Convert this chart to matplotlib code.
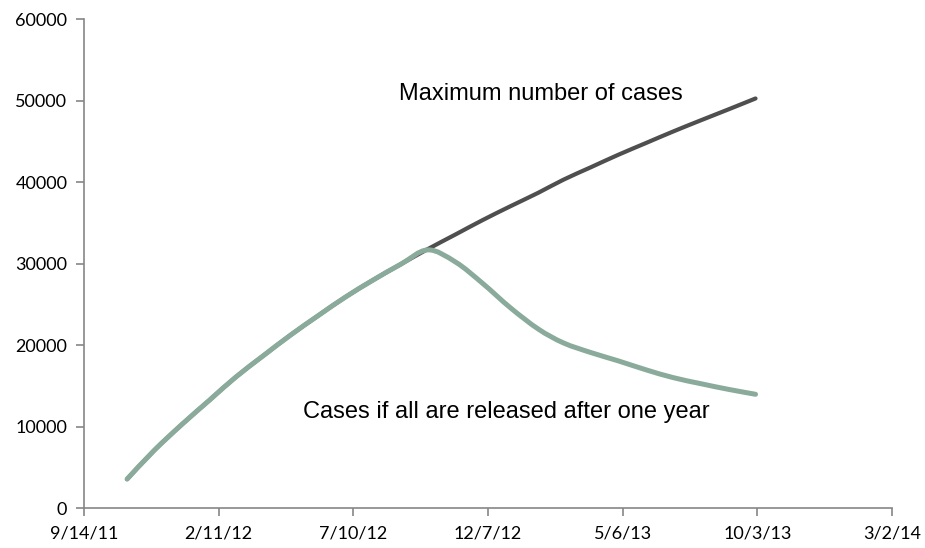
import numpy as np
import matplotlib
matplotlib.use("Agg")
import matplotlib.pyplot as plt
import matplotlib.dates as mdates
from matplotlib.path import Path
from matplotlib.patches import PathPatch
from datetime import datetime, timedelta

# ---------- Data ----------
months = [datetime(2011 + (10 + i) // 12, (10 + i) % 12 + 1, 1) for i in range(24)]

max_cases = [3600, 7100, 10300, 13300, 16100, 18750, 21250, 23650, 25900,
             28000, 29950, 31800, 33600, 35350, 37050, 38700, 40300, 41850,
             43350, 44800, 46200, 47580, 48930, 50260]

released_cases = [3600, 7100, 10300, 13300, 16100, 18750, 21250, 23650, 25900,
                  28000, 29950, 31700, 30200, 27600, 24600, 22000, 20300, 19100,
                  18100, 17000, 16050, 15300, 14600, 14000]

tick_start = datetime(2011, 9, 14)
tick_dates = [tick_start + timedelta(days=150 * i) for i in range(7)]
tick_labels = ["9/14/11", "2/11/12", "7/10/12", "12/7/12", "5/6/13", "10/3/13", "3/2/14"]


# ---------- Smoothed line (Excel style bezier) ----------
def smooth_path(xs, ys):
    pts = np.column_stack([xs, ys])
    verts = [pts[0]]
    codes = [Path.MOVETO]
    n = len(pts)
    for i in range(n - 1):
        p0 = pts[i - 1] if i > 0 else pts[i]
        p1 = pts[i]
        p2 = pts[i + 1]
        p3 = pts[i + 2] if i + 2 < n else pts[i + 1]
        c1 = p1 + (p2 - p0) / 6.0
        c2 = p2 - (p3 - p1) / 6.0
        verts += [c1, c2, p2]
        codes += [Path.CURVE4] * 3
    return Path(verts, codes)


def draw_smooth(ax, dates, values, color, lw):
    xs = mdates.date2num(dates)
    patch = PathPatch(smooth_path(xs, np.array(values, dtype=float)),
                      facecolor="none", edgecolor=color, lw=lw,
                      capstyle="round", joinstyle="round")
    ax.add_patch(patch)


# ---------- Plot ----------
fig = plt.figure(figsize=(9.25, 5.48), dpi=100)
ax = fig.add_axes([0.0908, 0.0721, 0.8735, 0.8932])

draw_smooth(ax, months, max_cases, "#4f4f4f", 3.0)
draw_smooth(ax, months, released_cases, "#8aab9b", 3.6)

ax.set_xlim(mdates.date2num(tick_dates[0]), mdates.date2num(tick_dates[-1]))
ax.set_ylim(0, 60000)
ax.set_xticks(mdates.date2num(tick_dates))
ax.set_xticklabels(tick_labels)
ax.set_yticks(range(0, 60001, 10000))

for side in ["top", "right"]:
    ax.spines[side].set_visible(False)
for side in ["left", "bottom"]:
    ax.spines[side].set_color("#868686")
    ax.spines[side].set_linewidth(1.2)

ax.tick_params(axis="both", direction="out", length=6, width=1.2,
               color="#868686", labelsize=13, labelcolor="black", pad=6)
for lbl in ax.get_xticklabels() + ax.get_yticklabels():
    lbl.set_family("Lato")

ax.text(datetime(2012, 8, 30), 50120, "Maximum number of cases",
        fontsize=17, family="Liberation Sans", va="baseline", ha="left")
ax.text(datetime(2012, 5, 15), 11100, "Cases if all are released after one year",
        fontsize=17, family="Liberation Sans", va="baseline", ha="left")

fig.savefig("out.png", dpi=100, facecolor="white")
